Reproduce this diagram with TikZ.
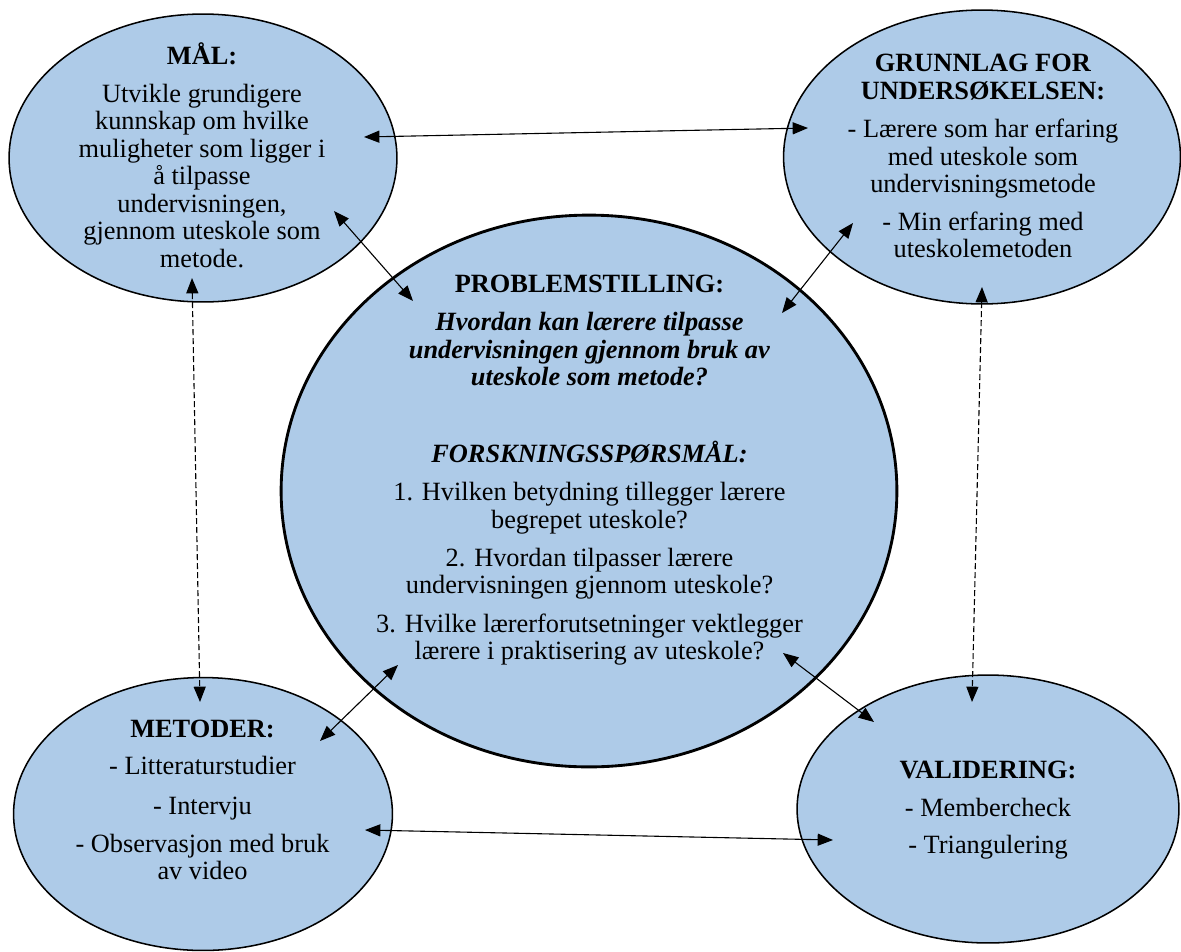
\documentclass[tikz,border=0pt]{standalone}
\usepackage{fontspec}
\setmainfont{Liberation Serif}
\usetikzlibrary{shapes.geometric,arrows.meta}
\definecolor{bubblefill}{RGB}{174,203,232}
\lineskiplimit=-\maxdimen

\begin{document}
\begin{tikzpicture}[x=0.016cm,y=-0.016cm,
    bubble/.style={ellipse,draw,line width=0.7pt,fill=bubblefill,inner sep=0pt},
    txt/.style={align=center,inner sep=0pt,font=\fontsize{12}{12.5}\selectfont},
    link/.style={<->,>={Triangle[length=7pt,width=5.5pt]},line width=0.5pt},
    dashlink/.style={link,dash pattern=on 2.7pt off 1.4pt}]
  \useasboundingbox (0,0) rectangle (1181,951);
  % ellipses
  \node[bubble,minimum width=6.208cm,minimum height=4.608cm] (maal) at (203,158) {};
  \node[bubble,minimum width=6.352cm,minimum height=4.704cm] (grunn) at (982,157) {};
  \node[bubble,minimum width=6.064cm,minimum height=4.368cm] (meto) at (203,814) {};
  \node[bubble,minimum width=6.112cm,minimum height=4.288cm] (valid) at (988,809) {};
  \node[bubble,line width=1.3pt,minimum width=9.856cm,minimum height=8.832cm] (prob) at (589,491) {};
  % texts
  \node[txt] (maaltxt) at (202,155) {\textbf{MÅL:}\\[4.8pt]
    Utvikle grundigere\\ kunnskap om hvilke\\ muligheter som ligger i\\ å tilpasse\\
    undervisningen,\\ gjennom uteskole som\\ metode.};
  \node[txt] (grunntxt) at (983,156) {\textbf{GRUNNLAG FOR}\\ \textbf{UNDERSØKELSEN:}\\[5.1pt]
    - Lærere som har erfaring\\ med uteskole som\\ undervisningsmetode\\[4.5pt]
    - Min erfaring med\\ uteskolemetoden};
  \node[txt] (probtxt) at (589.5,470.5) {\textbf{PROBLEMSTILLING:}\\[4.8pt]
    \textbf{\textit{Hvordan kan lærere tilpasse}}\\
    \textbf{\textit{undervisningen gjennom bruk av}}\\
    \textbf{\textit{uteskole som metode?}}\\[22.5pt]
    \textbf{\textit{FORSKNINGSSPØRSMÅL:}}\\[4.8pt]
    1. Hvilken betydning tillegger lærere\\ begrepet uteskole?\\[5pt]
    2. Hvordan tilpasser lærere\\ undervisningen gjennom uteskole?\\[5pt]
    3. Hvilke lærerforutsetninger vektlegger\\ lærere i praktisering av uteskole?};
  \node[txt] (metotxt) at (202.5,800) {\textbf{METODER:}\\[4.6pt]
    - Litteraturstudier\\[5.7pt] - Intervju\\[4.6pt]
    - Observasjon med bruk\\ av video};
  \node[txt] (validtxt) at (988,810) {\textbf{VALIDERING:}\\[5pt]
    - Membercheck\\[4.5pt] - Triangulering};
  % arrow ends
  \coordinate (maalR) at (364,137);
  \coordinate (grunnL) at (808,128);
  \coordinate (maalD) at (334,211);
  \coordinate (probNW) at (413,301);
  \coordinate (grunnD) at (853,223);
  \coordinate (probNE) at (782,313);
  \coordinate (maalS) at (192,278);
  \coordinate (metoN) at (200,702);
  \coordinate (grunnS) at (982,287);
  \coordinate (validN) at (972,702);
  \coordinate (metoNE) at (320,741);
  \coordinate (probSW) at (398,665);
  \coordinate (validNW) at (874,722);
  \coordinate (probSE) at (783,653);
  \coordinate (metoR) at (365,830);
  \coordinate (validL) at (833,840);
  % arrows
  \draw[link] (maalR) -- (grunnL);
  \draw[link] (maalD) -- (probNW);
  \draw[link] (grunnD) -- (probNE);
  \draw[link] (metoNE) -- (probSW);
  \draw[link] (validNW) -- (probSE);
  \draw[link] (metoR) -- (validL);
  \draw[dashlink] (maalS) -- (metoN);
  \draw[dashlink] (grunnS) -- (validN);
\end{tikzpicture}
\end{document}
